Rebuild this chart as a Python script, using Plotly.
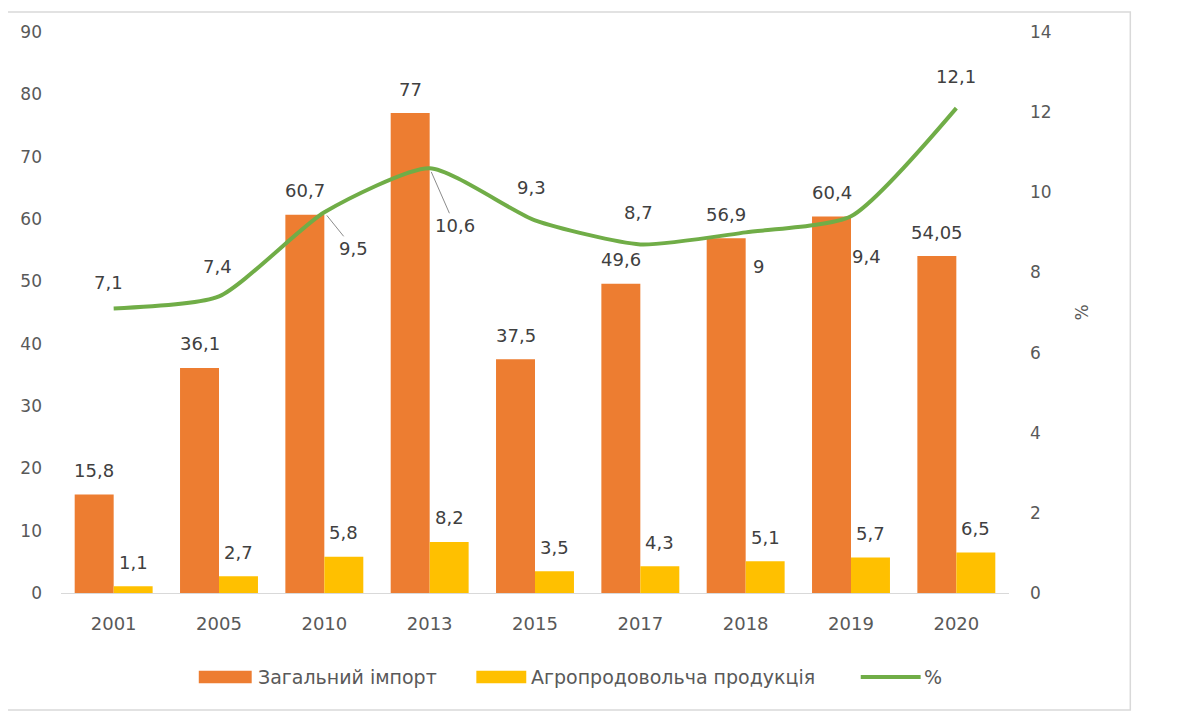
import plotly.graph_objects as go

years = ["2001", "2005", "2010", "2013", "2015", "2017", "2018", "2019", "2020"]
total_import = [15.8, 36.1, 60.7, 77, 37.5, 49.6, 56.9, 60.4, 54.05]
agro_import = [1.1, 2.7, 5.8, 8.2, 3.5, 4.3, 5.1, 5.7, 6.5]
agro_share = [7.1, 7.4, 9.5, 10.6, 9.3, 8.7, 9, 9.4, 12.1]

# label offsets for the % line (px), and whether a leader line is drawn
share_ax = [-5, -2, 29, 25, -4, -2, 13, 15, 0]
share_ay = [-26, -30, 36, 57, -33, -32, 34, 40, -32]
share_leader = [False, False, True, True, False, False, False, False, False]

FONT = "DejaVu Sans"
TXT = "#595959"
LBL = "#404040"
ORANGE = "#ED7D31"
YELLOW = "#FFC000"
GREEN = "#70AD47"


def fmt(v):
    return f"{v:g}".replace(".", ",")


fig = go.Figure()

fig.add_trace(go.Bar(x=years, y=total_import, name="Загальний імпорт",
                     marker=dict(color=ORANGE, line_width=0)))
fig.add_trace(go.Bar(x=years, y=agro_import, name="Агропродовольча продукція",
                     marker=dict(color=YELLOW, line_width=0)))
fig.add_trace(go.Scatter(
    x=years, y=agro_share, name="%", yaxis="y2", mode="lines",
    line=dict(color=GREEN, width=4, shape="spline", smoothing=0.6),
))

# bar value labels (category axis -> annotations take the index)
half_bar = 19.5
for i, (a, b) in enumerate(zip(total_import, agro_import)):
    fig.add_annotation(x=i, y=a, xref="x", yref="y", text=fmt(a), showarrow=False,
                       xshift=-half_bar, yshift=24, font=dict(size=18, color=LBL))
    fig.add_annotation(x=i, y=b, xref="x", yref="y", text=fmt(b), showarrow=False,
                       xshift=half_bar, yshift=24, font=dict(size=18, color=LBL))

for i, (v, ax, ay, leader) in enumerate(zip(agro_share, share_ax, share_ay, share_leader)):
    fig.add_annotation(
        x=i, y=v, xref="x", yref="y2", text=fmt(v),
        showarrow=True, ax=ax, ay=ay, arrowhead=0, arrowwidth=1,
        arrowcolor="#8C8C8C" if leader else "rgba(0,0,0,0)",
        standoff=4 if leader else 0,
        font=dict(size=18, color=LBL),
    )

# hand-made legend below the plot (wide swatches like the original)
def px2x(px):
    return (px - 59) / 949.5


ly = -0.1497
lh = 0.011
fig.add_shape(type="rect", xref="paper", yref="paper", x0=px2x(197), x1=px2x(250),
              y0=ly - lh, y1=ly + lh, fillcolor=ORANGE, line_width=0)
fig.add_shape(type="rect", xref="paper", yref="paper", x0=px2x(475), x1=px2x(525),
              y0=ly - lh, y1=ly + lh, fillcolor=YELLOW, line_width=0)
fig.add_shape(type="line", xref="paper", yref="paper", x0=px2x(860), x1=px2x(920),
              y0=ly, y1=ly, line=dict(color=GREEN, width=4))
for px, name in [(254, "Загальний імпорт"), (528, "Агропродовольча продукція"), (921, "%")]:
    fig.add_annotation(x=px2x(px), y=ly, xref="paper", yref="paper", text=name,
                       showarrow=False, xanchor="left", yanchor="middle",
                       font=dict(size=19, color=TXT))

# light frame around the chart panel
fig.add_shape(type="rect", xref="paper", yref="paper",
              x0=px2x(4), x1=px2x(1130), y0=(593 - 710) / 561, y1=(593 - 12) / 561,
              line=dict(color="#D9D9D9", width=1.5), layer="below")

# page body adds an 8px offset, margins are trimmed by that amount
fig.update_layout(
    width=1195, height=715,
    margin=dict(l=51, r=194, t=24, b=130),
    paper_bgcolor="white", plot_bgcolor="white",
    font=dict(family=FONT, size=18, color=TXT),
    barmode="group", bargap=0.26, bargroupgap=0,
    showlegend=False,
    xaxis=dict(type="category", showgrid=False, showline=True, linecolor="#D9D9D9",
               linewidth=1, ticks="", ticklabelstandoff=14,
               tickfont=dict(size=18, color=TXT)),
    yaxis=dict(range=[0, 90], dtick=10, showgrid=False, zeroline=False,
               ticks="", ticklabelstandoff=18, tickfont=dict(size=17, color=TXT)),
    yaxis2=dict(range=[0, 14], dtick=2, overlaying="y", side="right",
                showgrid=False, zeroline=False, ticks="", ticklabelstandoff=20,
                tickfont=dict(size=17, color=TXT),
                title=dict(text="%", font=dict(size=17, color=TXT), standoff=25)),
)

fig.write_html("out.html")
